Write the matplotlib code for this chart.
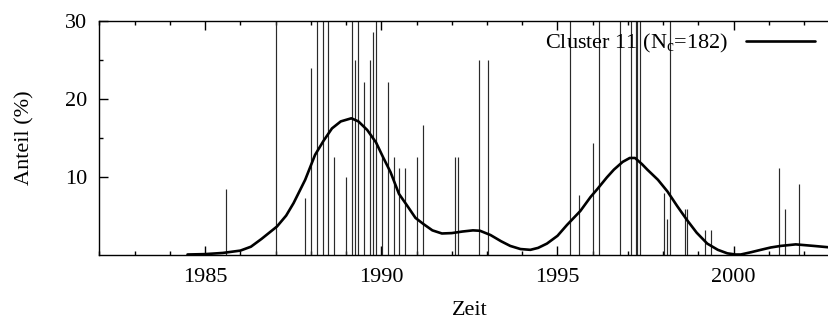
import matplotlib
matplotlib.use("Agg")
import matplotlib.pyplot as plt
from matplotlib.ticker import FixedLocator, MultipleLocator

plt.rcParams['font.family'] = ['Liberation Serif', 'DejaVu Serif']
plt.rcParams['mathtext.fontset'] = 'custom'
plt.rcParams['mathtext.rm'] = 'Liberation Serif'
plt.rcParams['mathtext.it'] = 'Liberation Serif:italic'

# impulse data (year, share in %); values above 30 are clipped by the axis
impulse_years = [1985.6, 1987.02, 1987.84, 1988.0, 1988.17, 1988.34, 1988.5, 1988.67,
                 1989.0, 1989.18, 1989.26, 1989.35, 1989.5, 1989.68, 1989.76, 1989.84,
                 1990.02, 1990.18, 1990.35, 1990.51, 1990.68, 1991.01, 1991.17,
                 1992.08, 1992.18, 1992.77, 1993.02,
                 1995.36, 1995.61, 1996.01, 1996.17, 1996.77, 1997.1, 1997.22, 1997.27,
                 1997.33, 1998.03, 1998.12, 1998.19, 1998.61, 1998.68, 1999.18, 1999.35,
                 2001.29, 2001.45, 2001.86, 2002.72]
impulse_vals = [8.4, 50, 7.2, 24.0, 50, 50, 50, 12.5,
                10.0, 50, 25.0, 50, 22.2, 25.0, 28.6, 50,
                12.5, 22.2, 12.5, 11.1, 11.1, 12.5, 16.7,
                12.5, 12.5, 25.0, 25.0,
                50, 7.6, 14.3, 50, 50, 50, 50, 50,
                50, 7.9, 4.5, 50, 5.9, 5.9, 3.1, 3.1,
                11.1, 5.9, 9.1, 4.8]

# smoothed curve
curve_x = [1984.5, 1985.0, 1985.5, 1986.0, 1986.3, 1986.6, 1987.04, 1987.3, 1987.51,
           1987.84, 1988.12, 1988.36, 1988.6, 1988.85, 1989.15, 1989.35, 1989.6,
           1989.85, 1990.05, 1990.26, 1990.5, 1990.73, 1990.97, 1991.2, 1991.45,
           1991.72, 1992.0, 1992.3, 1992.6, 1992.8, 1993.1, 1993.4, 1993.66,
           1993.95, 1994.23, 1994.45, 1994.7, 1995.0, 1995.27, 1995.65, 1995.94,
           1996.13, 1996.4, 1996.6, 1996.85, 1997.05, 1997.2, 1997.4, 1997.55,
           1997.85, 1998.12, 1998.4, 1998.68, 1998.95, 1999.25, 1999.55, 1999.82,
           2000.05, 2000.2, 2000.5, 2000.77, 2001.05, 2001.33, 2001.76, 2002.28,
           2003.0]
curve_y = [0.0, 0.05, 0.2, 0.5, 1.0, 2.0, 3.6, 5.0, 6.6,
           9.6, 12.8, 14.6, 16.2, 17.1, 17.5, 17.1, 16.0,
           14.4, 12.5, 10.6, 7.8, 6.3, 4.7, 3.9, 3.1,
           2.7, 2.75, 2.95, 3.1, 3.05, 2.5, 1.7, 1.1,
           0.7, 0.6, 0.85, 1.4, 2.4, 3.8, 5.6, 7.4,
           8.4, 9.9, 10.9, 11.9, 12.4, 12.4, 11.6, 10.9,
           9.6, 8.1, 6.2, 4.4, 2.8, 1.4, 0.6, 0.15,
           0.0, 0.0, 0.3, 0.6, 0.9, 1.1, 1.3, 1.1,
           0.8]

legend_label = r'Cluster 11 (N$_{\rm c}$=182)'
x_major = [1985, 1990, 1995, 2000]
y_major = [10, 20, 30]
y_minor = [15, 25]

W, H = 829, 322
fig = plt.figure(figsize=(W / 100, H / 100), dpi=100)
left, right, top, bottom = 99.4, 839.4, 21, 254.5
ax = fig.add_axes([left / W, 1 - bottom / H, (right - left) / W, (bottom - top) / H])

ax.vlines(impulse_years, 0, impulse_vals, color='#2a2a2a', linewidth=0.85)
ax.plot(curve_x, curve_y, color='black', linewidth=1.9, label=legend_label,
        solid_joinstyle='round', solid_capstyle='round')

ax.set_xlim(1982, 2003)
ax.set_ylim(0, 30)
ax.xaxis.set_major_locator(FixedLocator(x_major))
ax.xaxis.set_minor_locator(MultipleLocator(1))
ax.yaxis.set_major_locator(FixedLocator(y_major))
ax.yaxis.set_minor_locator(FixedLocator(y_minor))
ax.tick_params(which='both', direction='in', top=True, right=True, width=1.0,
               labelsize=16)
ax.tick_params(which='major', length=6.5)
ax.tick_params(which='minor', length=3.2)
ax.tick_params(axis='x', pad=10)
ax.tick_params(axis='y', pad=9)
for s in ax.spines.values():
    s.set_linewidth(1.0)

ax.set_xlabel('Zeit', fontsize=16, labelpad=10)
ax.set_ylabel('Anteil (%)', fontsize=16, labelpad=22)

leg = ax.legend(loc='upper right', markerfirst=False, frameon=False, fontsize=16,
                handlelength=3.1, handletextpad=0.8, borderpad=0, borderaxespad=0,
                bbox_to_anchor=(815 / W, 1 - 32 / H), bbox_transform=fig.transFigure)

fig.savefig('out.png', dpi=100)
